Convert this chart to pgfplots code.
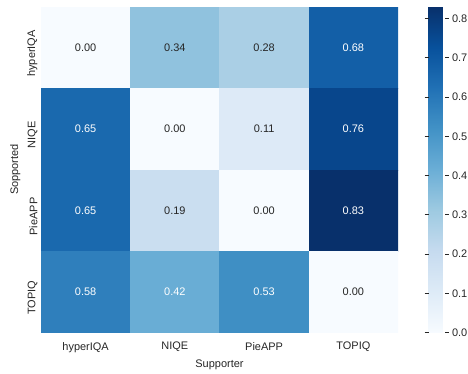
\documentclass[border=0pt]{standalone}
\usepackage{pgfplots}
\pgfplotsset{compat=1.18}
\usepackage{fontspec}
\setmainfont{Liberation Sans}
\definecolor{txt}{HTML}{262626}
\pgfplotsset{
  colormap={blues}{rgb255=(247,251,255) rgb255=(222,235,247) rgb255=(198,219,239)
    rgb255=(158,202,225) rgb255=(107,174,214) rgb255=(66,146,198)
    rgb255=(33,113,181) rgb255=(8,81,156) rgb255=(8,48,107)},
}
\newcommand{\lbl}{\fontsize{11}{13}\selectfont}

% cell values, row by row (y = row index, top row first)
\pgfplotstableread{
x y v
0 0 0.00
1 0 0.34
2 0 0.28
3 0 0.68
0 1 0.65
1 1 0.00
2 1 0.11
3 1 0.76
0 2 0.65
1 2 0.19
2 2 0.00
3 2 0.83
0 3 0.58
1 3 0.42
2 3 0.53
3 3 0.00
}\cells

\begin{document}
\begin{tikzpicture}
\path[use as bounding box] (0,0) rectangle (468bp,374bp);
\begin{axis}[
  at={(41bp,41.3bp)}, anchor=south west,
  width=357bp, height=326bp, scale only axis,
  axis line style={draw=none},
  xmin=-0.5, xmax=3.5, ymin=-0.5, ymax=3.5, y dir=reverse,
  xtick={0,1,2,3}, ytick={0,1,2,3},
  xticklabels={hyperIQA,NIQE,PieAPP,TOPIQ},
  yticklabels={hyperIQA,NIQE,PieAPP,TOPIQ},
  major tick length=0pt,
  tick label style={font=\lbl, text=txt},
  xticklabel style={yshift=-6bp},
  yticklabel style={rotate=90, anchor=south, xshift=-6bp},
  label style={font=\lbl, text=txt},
  xlabel={Supporter}, ylabel={Sopported},
  xlabel style={yshift=-1bp},
  colormap name=blues, point meta min=0, point meta max=0.83,
  colorbar,
  colorbar style={
    at={(parent axis.north east)}, anchor=north west, xshift=22bp,
    width=16bp, height=326bp, scale only axis,
    axis line style={draw=none},
    xtick=\empty,
    ytick={0,0.1,0.2,0.3,0.4,0.5,0.6,0.7,0.8},
    yticklabel pos=right,
    tick align=outside, major tick length=4bp,
    major tick style={txt, line width=0.8bp},
    yticklabel style={font=\lbl, text=txt,
      /pgf/number format/.cd, fixed, fixed zerofill, precision=1, assume math mode=true},
  },
]
\addplot[matrix plot*, mesh/cols=4, point meta=explicit] table[x=x, y=y, meta=v] {\cells};

% annotations: dark text on light cells
\addplot[only marks, mark=none, nodes near coords, point meta=explicit symbolic,
  nodes near coords align={center},
  every node near coord/.append style={font=\lbl, text=txt}]
  table[meta=v] {
x y v
0 0 0.00
1 0 0.34
2 0 0.28
1 1 0.00
2 1 0.11
1 2 0.19
2 2 0.00
3 3 0.00
};
% annotations: white text on dark cells
\addplot[only marks, mark=none, nodes near coords, point meta=explicit symbolic,
  nodes near coords align={center},
  every node near coord/.append style={font=\lbl, text=white}]
  table[meta=v] {
x y v
3 0 0.68
0 1 0.65
3 1 0.76
0 2 0.65
3 2 0.83
0 3 0.58
1 3 0.42
2 3 0.53
};
\end{axis}
\end{tikzpicture}
\end{document}
